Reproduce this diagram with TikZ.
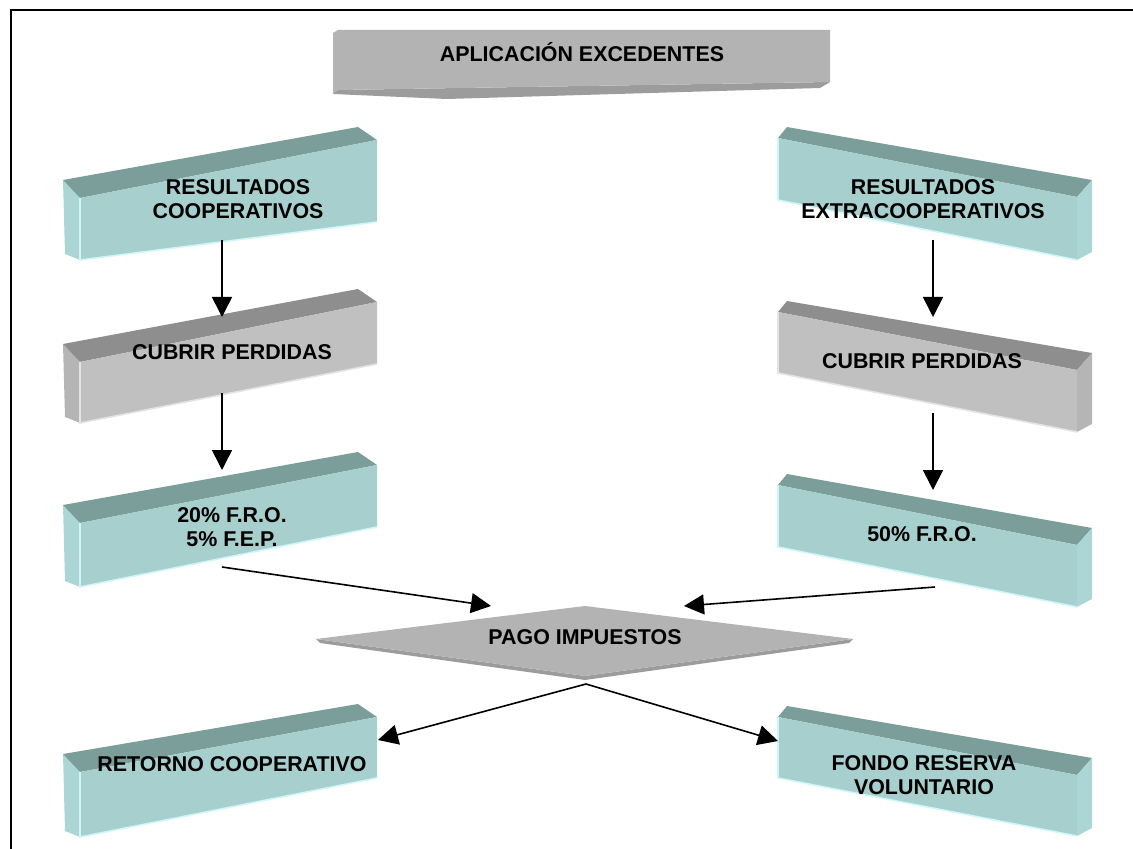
\documentclass[tikz,border=0pt]{standalone}
\usepackage{fontspec}
\setmainfont{Liberation Sans}
\usetikzlibrary{arrows.meta,positioning,calc}
\definecolor{CajaTeal}{HTML}{A6CFCE}
\definecolor{CajaTealTop}{HTML}{7B9E9B}
\definecolor{CajaTealLado}{HTML}{ACD6D5}
\definecolor{CajaTealBrillo}{HTML}{CFF7F7}
\definecolor{CajaGris}{HTML}{C0C0C0}
\definecolor{CajaGrisTop}{HTML}{8E8E8E}
\definecolor{CajaGrisLado}{HTML}{B5B5B5}
\definecolor{CajaGrisBrillo}{HTML}{E4E4E4}
\definecolor{RomboGris}{HTML}{B3B3B3}
\definecolor{RomboGrisOsc}{HTML}{9C9C9C}

% caja 3D, cara lateral a la izquierda
\newcommand{\cajaiz}[7]{%
  \fill[#7Lado] (#1,#2) -- (#1-17,#2-18) -- (#1-15,#3-6) -- (#1,#3) -- cycle;
  \fill[#7Top] (#1,#2) -- (#1-17,#2-18) -- (#4-19,#5-13) -- (#4,#5) -- cycle;
  \fill[#7] (#1,#2) -- (#4,#5) -- (#4,#6) -- (#1,#3) -- cycle;
  \draw[#7Brillo,line width=0.8pt] (#1,#2) -- (#1,#3) -- (#4,#6);
}
% caja 3D, cara lateral a la derecha
\newcommand{\cajader}[7]{%
  \fill[#7Top] (#1,#2) -- (#1+9,#2-11) -- (#4+15,#5-17) -- (#4,#5) -- cycle;
  \fill[#7Lado] (#4,#5) -- (#4+15,#5-17) -- (#4+15,#6-8) -- (#4,#6) -- cycle;
  \fill[#7] (#1,#2) -- (#4,#5) -- (#4,#6) -- (#1,#3) -- cycle;
  \draw[#7Brillo,line width=0.8pt] (#1,#2) -- (#1,#3) -- (#4,#6);
}

\tikzset{
  texto/.style={font=\bfseries\fontsize{10.7}{12}\selectfont,align=center,inner sep=0pt},
  flecha/.style={-{Triangle[length=10pt,width=10pt]},line width=0.8pt}
}

\begin{document}
\begin{tikzpicture}[x=0.5pt,y=-0.5pt]
  \useasboundingbox (0,0) rectangle (1133,849);
  \begin{scope}
    \clip (0,0) rectangle (1133,849);
    \draw[line width=1pt] (11,10) rectangle (1150,870);
  \end{scope}

  % cabecera
  \fill[CajaGrisLado] (333,33) -- (338,30) -- (338,90) -- (333,94) -- cycle;
  \fill[RomboGrisOsc] (333,94) -- (338,90) -- (830,82) -- (820,88) -- (447,99) -- cycle;
  \fill[RomboGris] (338,30) -- (830,30) -- (830,82) -- (338,90) -- cycle;
  \node[texto] (aplic) at (582,52) {APLICACIÓN EXCEDENTES};

  % columna izquierda
  \cajaiz{80}{198}{260}{377}{140}{222}{CajaTeal}
  \node[texto] (rescoop) at (238,199) {RESULTADOS\\COOPERATIVOS};
  \cajaiz{80}{362}{423}{377}{302}{364}{CajaGris}
  \node[texto] (cubiz) at (232,352) {CUBRIR PERDIDAS};
  \cajaiz{80}{523}{587}{377}{465}{527}{CajaTeal}
  \node[texto] (froiz) at (232,527) {20\% F.R.O.\\5\% F.E.P.};
  \cajaiz{80}{772}{837}{377}{717}{778}{CajaTeal}
  \node[texto] (retorno) at (232,764) {RETORNO COOPERATIVO};

  % columna derecha
  \cajader{778}{138}{200}{1077}{197}{260}{CajaTeal}
  \node[texto] (resextra) at (923,199) {RESULTADOS\\EXTRACOOPERATIVOS};
  \cajader{778}{312}{373}{1077}{370}{432}{CajaGris}
  \node[texto] (cubder) at (922,361) {CUBRIR PERDIDAS};
  \cajader{778}{485}{547}{1077}{545}{607}{CajaTeal}
  \node[texto] (froder) at (922,534) {50\% F.R.O.};
  \cajader{778}{717}{778}{1077}{775}{836}{CajaTeal}
  \node[texto] (fondo) at (924,775) {FONDO RESERVA\\VOLUNTARIO};

  % rombo
  \fill[RomboGrisOsc] (316,639) -- (585,676) -- (853,639) -- (849,643) -- (585,680) -- (320,643) -- cycle;
  \fill[RomboGris] (316,639) -- (585,606) -- (853,639) -- (585,676) -- cycle;
  \node[texto] (pago) at (585,637) {PAGO IMPUESTOS};

  % puntos de las flechas
  \coordinate (rescoop-s) at (222,240);
  \coordinate (cubiz-e) at (222,317);
  \coordinate (cubiz-s) at (222,393);
  \coordinate (froiz-e) at (222,470);
  \coordinate (froiz-s) at (222,567);
  \coordinate (resextra-s) at (933,240);
  \coordinate (cubder-e) at (933,317);
  \coordinate (cubder-s) at (933,413);
  \coordinate (froder-e) at (933,490);
  \coordinate (froder-s) at (935,587);
  \coordinate (pago-iz) at (491,606);
  \coordinate (pago-der) at (684,606);
  \coordinate (pago-s) at (586,684);
  \coordinate (retorno-e) at (378,740);
  \coordinate (fondo-e) at (778,741);

  \draw[flecha] (rescoop-s) -- (cubiz-e);
  \draw[flecha] (cubiz-s) -- (froiz-e);
  \draw[flecha] (resextra-s) -- (cubder-e);
  \draw[flecha] (cubder-s) -- (froder-e);
  \draw[flecha] (froiz-s) -- (pago-iz);
  \draw[flecha] (froder-s) -- (pago-der);
  \draw[flecha] (pago-s) -- (retorno-e);
  \draw[flecha] (pago-s) -- (fondo-e);
\end{tikzpicture}
\end{document}
